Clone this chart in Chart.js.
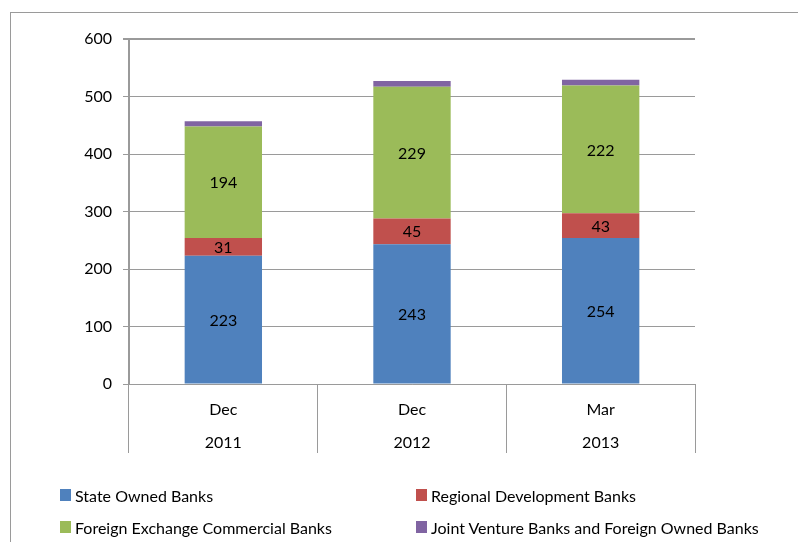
<!DOCTYPE html>
<html>
<head>
<meta charset="utf-8">
<script src="https://cdn.jsdelivr.net/npm/chart.js@4.4.1/dist/chart.umd.min.js"></script>
<style>
  html, body { margin: 0; padding: 0; background: #fff; }
  #wrap { position: relative; width: 798px; height: 542px; overflow: hidden; }
  #frame {
    position: absolute; left: 10px; top: 12px; width: 900px; height: 700px;
    border-left: 1px solid #9a9a9a; border-top: 1px solid #9a9a9a;
  }
  #chart { position: absolute; left: 0; top: 0; }
  #legend {
    position: absolute; left: 60px; top: 479px;
    display: grid; grid-template-columns: 356px auto; grid-auto-rows: 32px;
    font: 16px Lato, sans-serif; color: #000;
  }
  #legend .item { display: flex; align-items: center; white-space: nowrap; }
  #legend .box { width: 11px; height: 12px; margin-right: 4px; }
</style>
</head>
<body>
<div id="wrap">
  <div id="frame"></div>
  <canvas id="chart" width="798" height="542"></canvas>
  <div id="legend"></div>
</div>
<script>
// Number of banks by group
var periods = ["Dec", "Dec", "Mar"];
var years = ["2011", "2012", "2013"];
var stateOwned = [223, 243, 254];
var regionalDev = [31, 45, 43];
var foreignExchange = [194, 229, 222];
var jointVenture = [9, 10, 10];
var yMin = 0, yMax = 600, yStep = 100;

var FONT = "Lato, sans-serif";

// values written in the middle of each segment (skipped for the thin top one)
var segmentLabels = {
  id: "segmentLabels",
  afterDatasetsDraw: function (chart) {
    var ctx = chart.ctx;
    ctx.save();
    ctx.font = "16px " + FONT;
    ctx.fillStyle = "#000";
    ctx.textAlign = "center";
    ctx.textBaseline = "middle";
    chart.data.datasets.forEach(function (ds, i) {
      if (ds.hideValue) return;
      chart.getDatasetMeta(i).data.forEach(function (bar, j) {
        var p = bar.getProps(["x", "y", "base"], true);
        ctx.fillText(String(ds.data[j]), p.x, (p.y + p.base) / 2 + 1);
      });
    });
    ctx.restore();
  }
};

// two-column legend under the plot
var htmlLegend = {
  id: "htmlLegend",
  afterUpdate: function (chart) {
    var box = document.getElementById("legend");
    box.innerHTML = "";
    chart.options.plugins.legend.labels.generateLabels(chart).forEach(function (item) {
      var el = document.createElement("div");
      el.className = "item";
      var sw = document.createElement("span");
      sw.className = "box";
      sw.style.background = item.fillStyle;
      el.appendChild(sw);
      el.appendChild(document.createTextNode(item.text));
      box.appendChild(el);
    });
  }
};

var categories = periods.map(function (p, i) { return [p, years[i]]; });

new Chart(document.getElementById("chart"), {
  type: "bar",
  data: {
    labels: categories,
    datasets: [
      { label: "State Owned Banks", data: stateOwned, backgroundColor: "#4f81bd" },
      { label: "Regional Development Banks", data: regionalDev, backgroundColor: "#c0504d" },
      { label: "Foreign Exchange Commercial Banks", data: foreignExchange, backgroundColor: "#9bbb59" },
      { label: "Joint Venture Banks and Foreign Owned Banks", data: jointVenture, backgroundColor: "#8064a2", hideValue: true }
    ]
  },
  options: {
    responsive: false,
    animation: false,
    barPercentage: 0.41,
    categoryPercentage: 1,
    layout: { padding: { top: 39, right: 103, bottom: 0, left: 0 } },
    plugins: {
      legend: { display: false },
      tooltip: { enabled: false }
    },
    scales: {
      x: {
        stacked: true,
        afterFit: function (s) { s.height = 158; },
        grid: {
          offset: true,
          drawOnChartArea: false,
          tickLength: 69,
          color: "#9a9a9a",
          lineWidth: 1
        },
        border: { color: "#9a9a9a", width: 1 },
        ticks: {
          padding: -60,
          color: "#000",
          font: { family: FONT, size: 16, lineHeight: 2.06 },
          maxRotation: 0
        }
      },
      y: {
        stacked: true,
        min: yMin,
        max: yMax,
        afterFit: function (s) { s.width = 129; },
        grid: {
          color: "#9a9a9a",
          lineWidth: function (c) { return c.tick && c.tick.value === yMax ? 2 : 1; },
          tickLength: 6
        },
        border: { color: "#9a9a9a", width: 2 },
        ticks: {
          stepSize: yStep,
          padding: 11,
          color: "#000",
          font: { family: FONT, size: 16 }
        }
      }
    }
  },
  plugins: [segmentLabels, htmlLegend]
});
</script>
</body>
</html>
